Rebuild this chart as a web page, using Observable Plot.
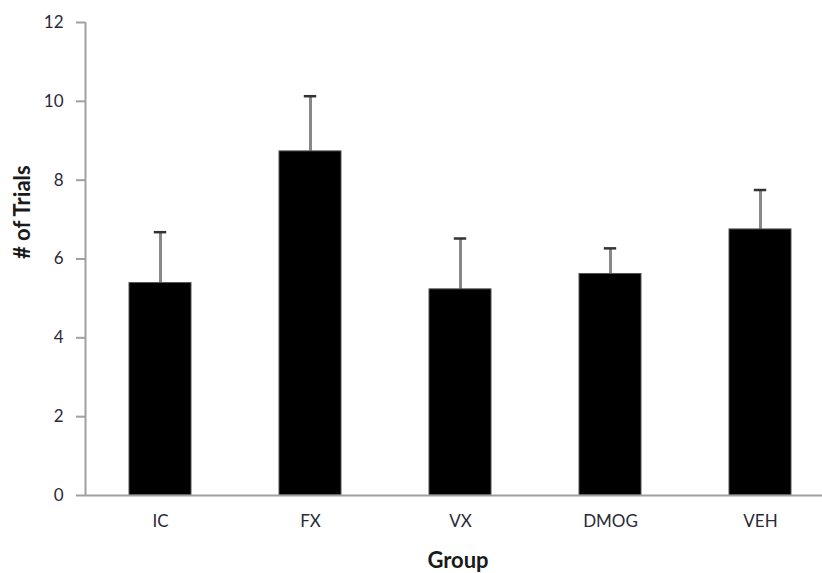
<!DOCTYPE html>
<html>
<head>
<meta charset="utf-8">
<script src="https://cdn.jsdelivr.net/npm/d3@7"></script>
<script src="https://cdn.jsdelivr.net/npm/@observablehq/plot@0.6"></script>
<style>
  html, body { margin: 0; padding: 0; background: #fff; }
  #chart svg { display: block; font-family: Lato, "Open Sans", sans-serif; }
</style>
</head>
<body>
<div id="chart"></div>
<script>
const groups = ["IC", "FX", "VX", "DMOG", "VEH"];
const means = [5.39, 8.73, 5.23, 5.62, 6.75];
const errors = [1.29, 1.40, 1.29, 0.65, 1.00];
const yTicks = [0, 2, 4, 6, 8, 10, 12];

const data = groups.map((g, i) => ({group: g, mean: means[i], err: errors[i]}));

const chart = Plot.plot({
  width: 822,
  height: 573,
  marginTop: 22,
  marginBottom: 78,
  marginLeft: 85,
  marginRight: 0,
  style: {background: "#fff", color: "#333"},
  x: {domain: groups, range: [85, 835], paddingInner: 0.59, paddingOuter: 0.295, align: 0.5, label: null, axis: null},
  y: {domain: [0, 12], axis: null},
  marks: [
    Plot.axisX({tickSize: 0, tickPadding: 19, fontSize: 17, fill: "#2a2a3a", label: null}),
    Plot.axisY({ticks: yTicks, tickSize: 9, tickPadding: 13, stroke: "#a0a0a0", strokeWidth: 2, fill: "#2a2a3a", fontSize: 17, label: null}),
    Plot.ruleX(data, {x: "group", y1: 0, y2: 12, stroke: "#a0a0a0", strokeWidth: 2, dx: -75, filter: (d, i) => i === 0}),
    Plot.ruleX(data, {x: "group", y1: "mean", y2: d => d.mean + d.err, stroke: "#888", strokeWidth: 3}),
    Plot.tickY(data, {x: "group", y: d => d.mean + d.err, stroke: "#333", strokeWidth: 2.5, insetLeft: 24.8, insetRight: 24.8}),
    Plot.barY(data, {x: "group", y: "mean", fill: "#000", stroke: "#555", strokeWidth: 1}),
    Plot.ruleY([0], {stroke: "#a0a0a0", strokeWidth: 2}),
    Plot.text(["# of Trials"], {frameAnchor: "left", rotate: -90, dx: -63, fontSize: 22, fontWeight: "bold", fill: "#1a1a1a"}),
    Plot.text(["Group"], {frameAnchor: "bottom", lineAnchor: "bottom", dx: 4, dy: 72, fontSize: 22, fontWeight: "bold", fill: "#1a1a1a"})
  ]
});
document.getElementById("chart").appendChild(chart);
</script>
</body>
</html>
